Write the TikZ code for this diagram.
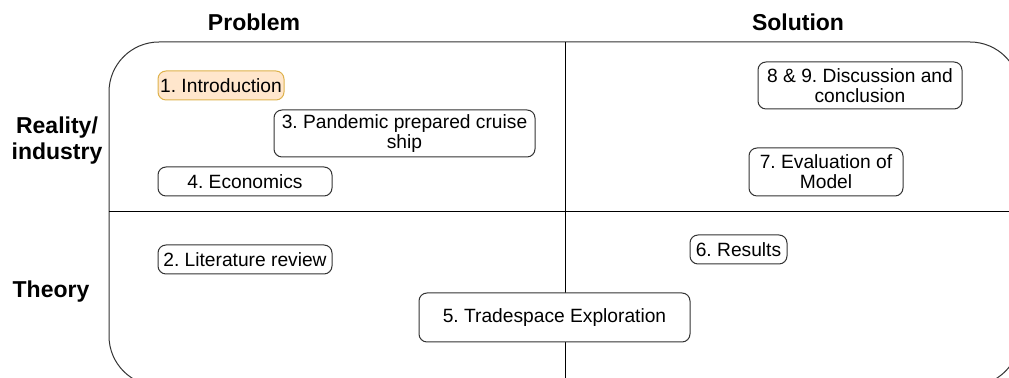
\documentclass[tikz,border=0pt]{standalone}
\usepackage{fontspec}
\setmainfont{Liberation Sans}
\frenchspacing
\definecolor{introFill}{RGB}{255, 230, 204}
\definecolor{introLine}{RGB}{222, 178, 76}
\definecolor{boxLine}{RGB}{51, 51, 51}
\usetikzlibrary{positioning}

\begin{document}
\begin{tikzpicture}[x=0.5pt, y=-0.5pt,
    chap/.style={draw=boxLine, line width=0.5pt, rounded corners=4pt, fill=white,
        align=center, inner sep=0pt, font=\fontsize{9.6}{10}\selectfont},
    head/.style={font=\fontsize{11.5}{13}\selectfont\bfseries, align=center}]
                \useasboundingbox (0,0) rectangle (1009,378);

                % Outer frame and quadrants
                \begin{scope}
                    \clip (0,0) rectangle (1009,378);
                    \draw[boxLine, line width=0.5pt, rounded corners=25pt]
                        (109,42) rectangle (1020,386);
                    \draw[line width=0.5pt] (109,212) -- (1020,212);
                    \draw[line width=0.5pt] (565,42) -- (565,386);
                \end{scope}

                % Column and row headings
                \node[head] (problem) at (254,22) {Problem};
                \node[head] (solution) at (798,22) {Solution};
                \node[head] (reality) at (57,141) {Reality/\\industry};
                \node[head] (theory) at (51,292) {Theory};

                % Chapters
                \node[chap, fill=introFill, draw=introLine, minimum width=63pt, minimum height=14.5pt]
                    (intro) at (221,85.5) {1. Introduction};
                \node[chap, minimum width=130.5pt, minimum height=23.5pt]
                    (pandemic) at (404.5,133.5) {3. Pandemic prepared cruise\\ship};
                \node[chap, minimum width=87pt, minimum height=14.5pt]
                    (econ) at (245,181.5) {4. Economics};
                \node[chap, minimum width=87pt, minimum height=14.5pt]
                    (lit) at (245,259.5) {2. Literature review};
                \node[chap, minimum width=135.5pt, minimum height=24.5pt]
                    (trade) at (554.5,317.5) {5. Tradespace Exploration};
                \node[chap, minimum width=48.5pt, minimum height=14.5pt]
                    (results) at (738.5,249.5) {6. Results};
                \node[chap, minimum width=77pt, minimum height=24pt]
                    (eval) at (826,172) {7. Evaluation of\\Model};
                \node[chap, minimum width=102pt, minimum height=23.5pt]
                    (disc) at (860,85.5) {8 \& 9. Discussion and\\conclusion};
            \end{tikzpicture}
\end{document}
